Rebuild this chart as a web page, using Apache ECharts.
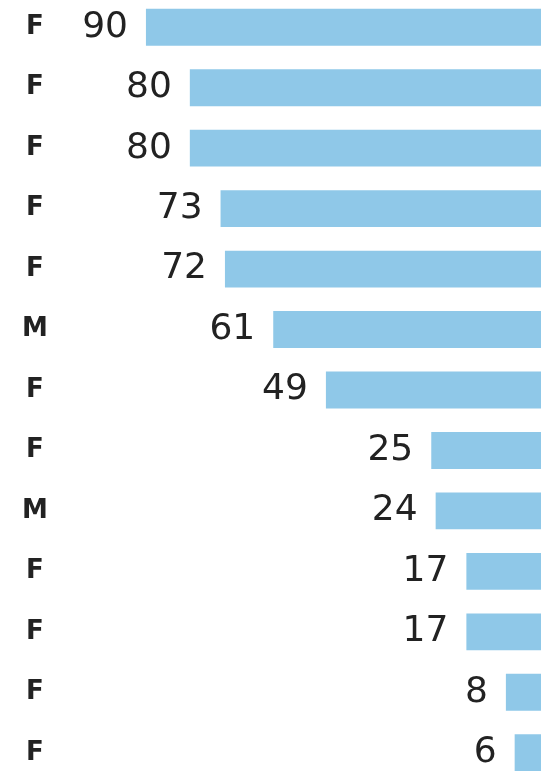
<!DOCTYPE html>
<html>
<head>
<meta charset="utf-8">
<script src="https://cdn.jsdelivr.net/npm/echarts@6/dist/echarts.min.js"></script>
<style>
  html, body { margin: 0; padding: 0; background: #fff; }
  #chart { width: 541px; height: 771px; }
</style>
</head>
<body>
<div id="chart"></div>
<script>
// 分类 (性别) 和数值, 从上到下
const genders = ['F', 'F', 'F', 'F', 'F', 'M', 'F', 'F', 'M', 'F', 'F', 'F', 'F'];
const values = [90, 80, 80, 73, 72, 61, 49, 25, 24, 17, 17, 8, 6];
const barColor = '#8fc8e8';

let mChart = echarts.init(document.getElementById('chart'));
let option = {
  animation: false,
  grid: {
    left: 70,
    right: 0,
    top: -3,
    height: 786,
    outerBoundsMode: 'none',
    containLabel: false
  },
  xAxis: {
    type: 'value',
    min: 0,
    max: 107.3,
    inverse: true,
    show: false
  },
  yAxis: {
    type: 'category',
    data: genders.map((g, i) => i + '|' + g),
    inverse: true,
    axisLine: { show: false },
    axisTick: { show: false },
    axisLabel: {
      formatter: v => v.split('|')[1],
      align: 'center',
      margin: 35,
      fontSize: 26,
      fontWeight: 'bold',
      fontFamily: 'DejaVu Sans',
      color: '#222'
    }
  },
  series: [{
    type: 'bar',
    data: values,
    barCategoryGap: '39%',
    itemStyle: { color: barColor },
    label: {
      show: true,
      position: 'left',
      distance: 18,
      fontSize: 36,
      fontFamily: 'DejaVu Sans',
      color: '#222'
    }
  }]
};
mChart.setOption(option);
</script>
</body>
</html>
